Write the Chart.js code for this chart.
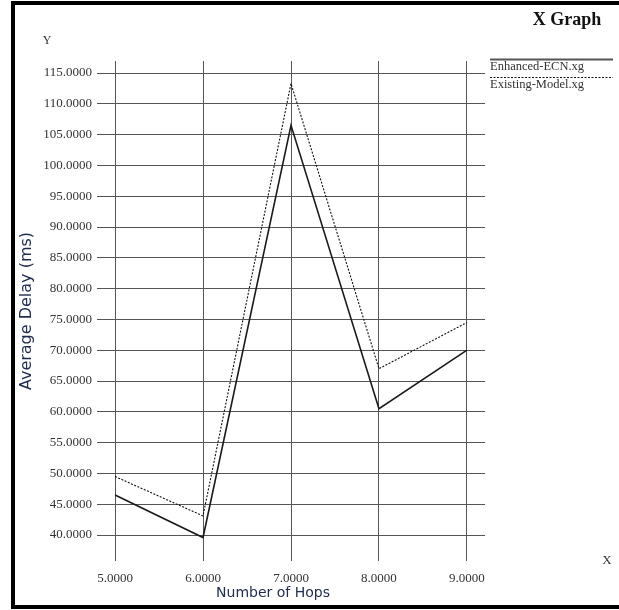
<!DOCTYPE html>
<html>
<head>
<meta charset="utf-8">
<script src="https://cdn.jsdelivr.net/npm/chart.js@4/dist/chart.umd.min.js"></script>
<style>
  html, body { margin: 0; padding: 0; background: #fff; }
  canvas { display: block; }
</style>
</head>
<body>
<canvas id="chart" width="619" height="610"></canvas>
<script>
// values
const hops = [5, 6, 7, 8, 9]
const enhancedEcn = [46.5, 39.6, 106.5, 60.5, 70.0]
const existingModel = [49.5, 43.1, 113.3, 67.0, 74.5]
const xTicks = [5, 6, 7, 8, 9]
const yTicks = [40, 45, 50, 55, 60, 65, 70, 75, 80, 85, 90, 95, 100, 105, 110, 115]

const seriesNames = ['Enhanced-ECN.xg', 'Existing-Model.xg']
const titleText = 'X Graph'
const xTitle = 'Number of Hops'
const yTitle = 'Average Delay (ms)'

const serif = '"Liberation Serif", "Times New Roman", serif'
const sans = '"DejaVu Sans", Verdana, sans-serif'

const toPoints = (ys) => hops.map((x, i) => ({ x, y: ys[i] }))

// frame, title, legend and the loose X / Y letters xgraph puts around the plot
const decorations = {
  id: 'decorations',
  afterDraw(chart) {
    let { ctx } = chart
    ctx.save()

    ctx.strokeStyle = '#000'
    ctx.lineWidth = 4
    ctx.strokeRect(13, 3, 620, 604)

    ctx.fillStyle = '#111'
    ctx.font = `bold 18px ${serif}`
    ctx.textAlign = 'center'
    ctx.textBaseline = 'alphabetic'
    ctx.fillText(titleText, 567, 25)

    ctx.fillStyle = '#333'
    ctx.font = `12px ${serif}`
    ctx.textBaseline = 'middle'
    ctx.fillText('Y', 47, 41)
    ctx.font = `13px ${serif}`
    ctx.fillText('X', 607, 561)

    ctx.fillStyle = '#1f2b4f'
    ctx.font = `14px ${sans}`
    ctx.fillText(xTitle, 273, 593)

    // legend: a sample line above each name
    ctx.textAlign = 'left'
    ctx.font = `12.5px ${serif}`
    chart.data.datasets.forEach((ds, i) => {
      let y = 59 + i * 18
      ctx.beginPath()
      ctx.setLineDash(ds.borderDash || [])
      ctx.strokeStyle = i === 0 ? '#555' : '#111'
      ctx.lineWidth = i === 0 ? 2 : 1
      ctx.moveTo(490, y + 0.5)
      ctx.lineTo(613, y + 0.5)
      ctx.stroke()
      ctx.setLineDash([])
      ctx.fillStyle = '#333'
      ctx.fillText(ds.label, 490, y + 8)
    })

    ctx.restore()
  }
}

new Chart(document.getElementById('chart'), {
  type: 'scatter',
  data: {
    datasets: [
      {
        label: seriesNames[0],
        data: toPoints(enhancedEcn),
        showLine: true,
        borderColor: '#1a1a1a',
        borderWidth: 1.6,
        pointRadius: 0,
        tension: 0
      },
      {
        label: seriesNames[1],
        data: toPoints(existingModel),
        showLine: true,
        borderColor: '#111',
        borderWidth: 1.1,
        borderDash: [2, 1.5],
        pointRadius: 0,
        tension: 0
      }
    ]
  },
  options: {
    responsive: false,
    animation: false,
    devicePixelRatio: 1,
    layout: { padding: { left: 0, top: 61, right: 134, bottom: 0 } },
    plugins: {
      legend: { display: false },
      tooltip: { enabled: false }
    },
    scales: {
      x: {
        type: 'linear',
        min: 4.795,
        max: 9.205,
        afterBuildTicks: (scale) => { scale.ticks = xTicks.map((value) => ({ value })) },
        afterFit: (scale) => { scale.height = 49 },
        grid: { color: '#555', lineWidth: 1, drawTicks: false },
        border: { display: false },
        ticks: {
          padding: 10,
          color: '#333',
          font: { family: serif, size: 13 },
          callback: (v) => v.toFixed(4)
        }
      },
      y: {
        type: 'linear',
        min: 35.78,
        max: 116.95,
        afterBuildTicks: (scale) => { scale.ticks = yTicks.map((value) => ({ value })) },
        afterFit: (scale) => { scale.width = 97 },
        grid: { color: '#555', lineWidth: 1, drawTicks: false },
        border: { display: false },
        title: {
          display: true,
          text: yTitle,
          color: '#1f2b4f',
          font: { family: sans, size: 16 },
          padding: { top: 17, bottom: 0 }
        },
        ticks: {
          padding: 5,
          color: '#333',
          font: { family: serif, size: 13 },
          callback: (v) => v.toFixed(4)
        }
      }
    }
  },
  plugins: [decorations]
})
</script>
</body>
</html>
